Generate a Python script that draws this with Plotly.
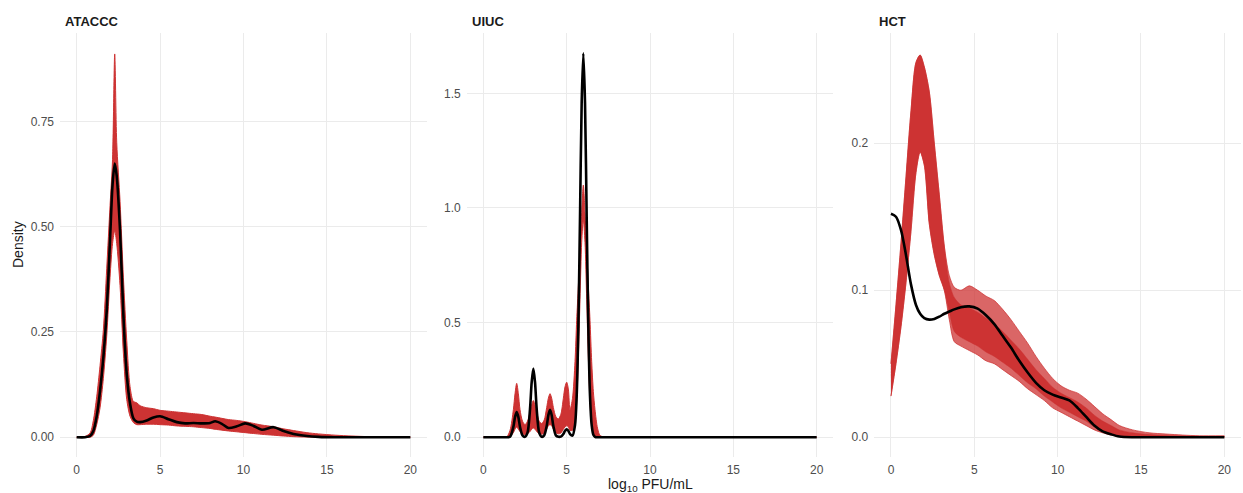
import plotly.graph_objects as go

# ---------------- data ----------------
panels = ["ATACCC", "UIUC", "HCT"]

x_ticks = [0, 5, 10, 15, 20]
x_tick_text = ["0", "5", "10", "15", "20"]

# ATACCC
atac_x = [0, 0.5, 0.8, 1.0, 1.2, 1.4, 1.6, 1.8, 2.0, 2.15, 2.28, 2.4, 2.6, 2.8, 3.0,
          3.2, 3.4, 3.6, 3.8, 4.2, 4.6, 5.0, 5.5, 6.0, 6.5, 7.0, 7.5, 8.0, 8.3, 8.7,
          9.1, 9.6, 10.1, 10.6, 11.1, 11.8, 12.4, 13.0, 13.8, 14.5, 15.5, 16.5, 17.5, 18.5, 20]
atac_obs = [0, 0, 0.003, 0.015, 0.05, 0.11, 0.19, 0.30, 0.47, 0.60, 0.65, 0.62, 0.49, 0.29, 0.15,
            0.08, 0.045, 0.037, 0.036, 0.04, 0.047, 0.05, 0.043, 0.036, 0.033, 0.034, 0.033, 0.034, 0.038, 0.032,
            0.022, 0.026, 0.033, 0.027, 0.018, 0.024, 0.015, 0.008, 0.003, 0.001, 0, 0, 0, 0, 0]
atac_rep_hi = [0, 0.002, 0.01, 0.04, 0.096, 0.17, 0.255, 0.40, 0.55, 0.66, 0.91, 0.70, 0.56, 0.38, 0.23,
               0.12, 0.085, 0.082, 0.075, 0.07, 0.068, 0.064, 0.062, 0.06, 0.058, 0.056, 0.054, 0.05, 0.048, 0.045,
               0.042, 0.04, 0.037, 0.033, 0.029, 0.025, 0.02, 0.016, 0.011, 0.008, 0.005, 0.003, 0.0015, 0.0005, 0]
atac_rep_lo = [0, 0, 0, 0.005, 0.03, 0.07, 0.14, 0.24, 0.38, 0.46, 0.49, 0.46, 0.36, 0.20, 0.09,
               0.05, 0.035, 0.03, 0.03, 0.031, 0.031, 0.03, 0.029, 0.027, 0.026, 0.025, 0.023, 0.021, 0.019, 0.017,
               0.015, 0.013, 0.011, 0.009, 0.007, 0.005, 0.003, 0.0015, 0.0005, 0, 0, 0, 0, 0, 0]
atac_y_ticks = [0, 0.25, 0.5, 0.75]
atac_y_text = ["0.00", "0.25", "0.50", "0.75"]

# UIUC
uiuc_x = [0, 1.0, 1.4, 1.6, 1.8, 1.9, 2.0, 2.1, 2.2, 2.35, 2.5, 2.65, 2.8, 2.9, 3.0,
          3.1, 3.2, 3.35, 3.5, 3.65, 3.8, 3.9, 4.0, 4.1, 4.2, 4.35, 4.5, 4.65, 4.8, 4.9,
          5.0, 5.1, 5.2, 5.35, 5.5, 5.6, 5.7, 5.8, 5.9, 6.0, 6.1, 6.2, 6.3, 6.4, 6.5,
          6.6, 6.7, 6.85, 7.0, 7.3, 8.0, 10, 15, 20]
uiuc_obs = [0, 0, 0, 0.002, 0.045, 0.088, 0.11, 0.088, 0.045, 0.008, 0.002, 0.02, 0.123, 0.24, 0.30,
            0.24, 0.123, 0.02, 0.002, 0.008, 0.049, 0.096, 0.12, 0.096, 0.049, 0.008, 0.002, 0.003, 0.014, 0.028,
            0.035, 0.028, 0.014, 0.007, 0.053, 0.18, 0.48, 0.96, 1.46, 1.675, 1.46, 0.96, 0.48, 0.18, 0.053,
            0.011, 0.002, 0, 0, 0, 0, 0, 0, 0]
uiuc_rep_hi = [0, 0, 0.002, 0.03, 0.12, 0.19, 0.235, 0.19, 0.12, 0.07, 0.055, 0.07, 0.11, 0.14, 0.16,
               0.14, 0.11, 0.07, 0.06, 0.075, 0.13, 0.17, 0.19, 0.17, 0.13, 0.09, 0.08, 0.1, 0.17, 0.22,
               0.24, 0.21, 0.12, 0.17, 0.33, 0.51, 0.66, 0.82, 0.98, 1.10, 0.98, 0.82, 0.66, 0.51, 0.33,
               0.2, 0.12, 0.04, 0.008, 0, 0, 0, 0, 0]
uiuc_rep_lo = [0, 0, 0, 0.003, 0.02, 0.035, 0.045, 0.035, 0.025, 0.015, 0.012, 0.015, 0.025, 0.035, 0.04,
               0.035, 0.025, 0.015, 0.013, 0.018, 0.035, 0.05, 0.055, 0.05, 0.035, 0.02, 0.015, 0.018, 0.035, 0.045,
               0.05, 0.045, 0.03, 0.03, 0.06, 0.15, 0.35, 0.6, 0.85, 0.95, 0.85, 0.6, 0.35, 0.15, 0.05,
               0.01, 0, 0, 0, 0, 0, 0, 0, 0]
uiuc_y_ticks = [0, 0.5, 1.0, 1.5]
uiuc_y_text = ["0.0", "0.5", "1.0", "1.5"]

# HCT
hct_x = [0, 0.3, 0.6, 0.9, 1.2, 1.5, 1.75, 2.0, 2.3, 2.6, 2.9, 3.2, 3.5, 3.8, 4.2,
         4.7, 5.2, 5.7, 6.2, 6.7, 7.2, 7.7, 8.2, 8.7, 9.2, 9.7, 10.2, 10.7, 11.2, 11.7,
         12.2, 12.7, 13.2, 13.7, 14.5, 15.5, 16.5, 17.5, 18.5, 20]
hct_obs = [0.152, 0.150, 0.141, 0.124, 0.104, 0.09, 0.084, 0.081, 0.080, 0.0805, 0.082, 0.084, 0.0855, 0.087, 0.0885,
           0.089, 0.0875, 0.083, 0.077, 0.069, 0.061, 0.052, 0.044, 0.037, 0.032, 0.029, 0.027, 0.025, 0.02, 0.014,
           0.008, 0.004, 0.002, 0.0005, 0, 0, 0, 0, 0, 0]
# full spread of the replicated densities
hct_rep_hi = [0.05, 0.09, 0.132, 0.177, 0.222, 0.255, 0.26, 0.252, 0.235, 0.2, 0.165, 0.13, 0.11, 0.102, 0.1,
              0.103, 0.1, 0.096, 0.093, 0.087, 0.08, 0.072, 0.064, 0.055, 0.047, 0.04, 0.035, 0.032, 0.03, 0.026,
              0.021, 0.016, 0.012, 0.008, 0.005, 0.003, 0.0022, 0.0015, 0.001, 0.001]
hct_rep_lo = [0.028, 0.05, 0.075, 0.105, 0.14, 0.18, 0.194, 0.185, 0.145, 0.124, 0.11, 0.1, 0.08, 0.065, 0.062,
              0.059, 0.056, 0.052, 0.05, 0.046, 0.042, 0.038, 0.033, 0.029, 0.025, 0.02, 0.017, 0.014, 0.011, 0.008,
              0.005, 0.003, 0.0015, 0.0005, 0, 0, 0, 0, 0, 0]
# dense core where most replicated curves overlap
hct_core_hi = [0.05, 0.09, 0.132, 0.177, 0.222, 0.255, 0.26, 0.252, 0.235, 0.2, 0.165, 0.13, 0.105, 0.095, 0.09,
               0.088, 0.085, 0.081, 0.077, 0.072, 0.066, 0.06, 0.053, 0.046, 0.04, 0.034, 0.03, 0.027, 0.024, 0.02,
               0.015, 0.011, 0.008, 0.005, 0.003, 0.0018, 0.0012, 0.0008, 0.0005, 0.0005]
hct_core_lo = [0.028, 0.05, 0.075, 0.105, 0.14, 0.18, 0.194, 0.185, 0.145, 0.124, 0.11, 0.1, 0.085, 0.072, 0.068,
               0.065, 0.062, 0.058, 0.055, 0.051, 0.047, 0.042, 0.037, 0.033, 0.028, 0.024, 0.02, 0.017, 0.014, 0.011,
               0.007, 0.004, 0.002, 0.001, 0.0003, 0, 0, 0, 0, 0]
hct_y_ticks = [0, 0.1, 0.2]
hct_y_text = ["0.0", "0.1", "0.2"]

# ---------------- styling ----------------
RED = "#CD3333"
RED_SPREAD = "rgba(205,51,51,0.75)"
GRID = "#EBEBEB"
FONT = "Liberation Sans, Arial, sans-serif"
W, H = 1243, 493

x_domains = [[60 / W, 427 / W], [466.7 / W, 833.3 / W], [874.3 / W, 1241 / W]]
y_domain = [1 - 456.5 / H, 1 - 33.3 / H]
y_ranges = [[-0.0456, 0.959], [-0.084, 1.762], [-0.0131, 0.2748]]

data = [
    (atac_x, atac_obs, atac_rep_lo, atac_rep_hi, None, None, atac_y_ticks, atac_y_text),
    (uiuc_x, uiuc_obs, uiuc_rep_lo, uiuc_rep_hi, None, None, uiuc_y_ticks, uiuc_y_text),
    (hct_x, hct_obs, hct_rep_lo, hct_rep_hi, hct_core_lo, hct_core_hi, hct_y_ticks, hct_y_text),
]

fig = go.Figure()
layout = {}
for i, (xs, obs, lo, hi, clo, chi, yt, ytt) in enumerate(data):
    s = "" if i == 0 else str(i + 1)
    common = dict(xaxis="x" + s, yaxis="y" + s, showlegend=False, hoverinfo="skip", mode="lines")
    if clo is None:
        fig.add_trace(go.Scatter(x=xs, y=lo, line=dict(color=RED, width=1, shape="spline", smoothing=0.8), **common))
        fig.add_trace(go.Scatter(x=xs, y=hi, line=dict(color=RED, width=1, shape="spline", smoothing=0.8),
                                 fill="tonexty", fillcolor=RED, **common))
    else:
        fig.add_trace(go.Scatter(x=xs, y=lo, line=dict(color=RED_SPREAD, width=1, shape="spline", smoothing=0.8), **common))
        fig.add_trace(go.Scatter(x=xs, y=hi, line=dict(color=RED_SPREAD, width=1, shape="spline", smoothing=0.8),
                                 fill="tonexty", fillcolor=RED_SPREAD, **common))
        fig.add_trace(go.Scatter(x=xs, y=clo, line=dict(color=RED, width=0.5, shape="spline", smoothing=0.8), **common))
        fig.add_trace(go.Scatter(x=xs, y=chi, line=dict(color=RED, width=0.5, shape="spline", smoothing=0.8),
                                 fill="tonexty", fillcolor=RED, **common))
    fig.add_trace(go.Scatter(x=xs, y=obs, line=dict(color="black", width=2.6, shape="spline", smoothing=0.8), **common))

    layout["xaxis" + s] = dict(domain=x_domains[i], range=[-1, 21], anchor="y" + s,
                               tickvals=x_ticks, ticktext=x_tick_text, showgrid=True, gridcolor=GRID,
                               gridwidth=1, zeroline=False, showline=False, ticks="",
                               tickfont=dict(family=FONT, size=12, color="#4D4D4D"), ticklabelstandoff=4)
    layout["yaxis" + s] = dict(domain=y_domain, range=y_ranges[i], anchor="x" + s,
                               tickvals=yt, ticktext=ytt, showgrid=True, gridcolor=GRID, gridwidth=1,
                               zeroline=False, showline=False, ticks="",
                               tickfont=dict(family=FONT, size=12, color="#4D4D4D"), ticklabelstandoff=5)

annotations = []
title_x = [63, 469.7, 877.3]
for name, tx in zip(panels, title_x):
    annotations.append(dict(text="<b>" + name + "</b>", x=tx / W, y=1 - 22 / H, xref="paper", yref="paper",
                            xanchor="left", yanchor="middle", showarrow=False,
                            font=dict(family=FONT, size=13, color="#1A1A1A")))
annotations.append(dict(text="Density", x=18 / W, y=1 - 245 / H, xref="paper", yref="paper",
                        xanchor="center", yanchor="middle", textangle=-90, showarrow=False,
                        font=dict(family=FONT, size=14, color="#1A1A1A")))
annotations.append(dict(text="log<sub>10</sub> PFU/mL", x=650 / W, y=1 - 485 / H, xref="paper", yref="paper",
                        xanchor="center", yanchor="middle", showarrow=False,
                        font=dict(family=FONT, size=14, color="#1A1A1A")))

fig.update_layout(width=W, height=H, margin=dict(l=0, r=0, t=0, b=0),
                  paper_bgcolor="white", plot_bgcolor="white", annotations=annotations, **layout)

fig.write_html("out.html")
